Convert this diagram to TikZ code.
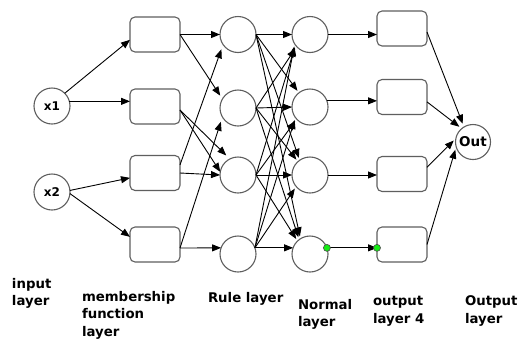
\documentclass[tikz,border=0pt]{standalone}
\usepackage{fontspec}
\setmainfont{DejaVu Sans}
\usetikzlibrary{arrows.meta,calc}

\definecolor{nodegray}{RGB}{95,95,95}
\definecolor{dotgreen}{RGB}{20,235,20}

\begin{document}
\begin{tikzpicture}[x=1pt,y=-1pt,
  every node/.style={inner sep=0pt,outer sep=0pt},
  neuron/.style={circle,draw=nodegray,line width=1.1pt,minimum size=36pt,
    font=\bfseries\fontsize{12}{14}\selectfont},
  mfbox/.style={rectangle,rounded corners=5pt,draw=nodegray,line width=1.1pt,
    minimum width=50pt,minimum height=35pt},
  link/.style={draw=black,line width=0.9pt,-{Triangle[length=9pt,width=7pt]}},
  caption/.style={font=\bfseries\fontsize{13.3}{17.3}\selectfont,align=left,anchor=base west},
  dot/.style={circle,fill=dotgreen,draw=black!70,line width=0.6pt,minimum size=7pt}
]
\useasboundingbox[fill=white] (0,0) rectangle (519,338);

% input layer
\node[neuron] (x1) at (52,106) {x1};
\node[neuron] (x2) at (52,192) {x2};

% membership function layer
\node[mfbox] (b1) at (155,34.5) {};
\node[mfbox] (b2) at (155,106.5) {};
\node[mfbox] (b3) at (155,173) {};
\node[mfbox] (b4) at (155,244.5) {};

% rule layer
\node[neuron] (r1) at (238,34.5) {};
\node[neuron] (r2) at (238,108) {};
\node[neuron] (r3) at (238,175) {};
\node[neuron] (r4) at (238,254) {};

% normalisation layer
\node[neuron] (n1) at (310,34.5) {};
\node[neuron] (n2) at (310,107) {};
\node[neuron] (n3) at (310,175) {};
\node[neuron] (n4) at (310,254) {};

% consequent (layer 4) boxes
\node[mfbox] (o1) at (402,28.5) {};
\node[mfbox] (o2) at (402,97) {};
\node[mfbox] (o3) at (402,174) {};
\node[mfbox] (o4) at (402,244.5) {};

% output node
\node[neuron,minimum size=35pt,font=\bfseries\fontsize{13.5}{15}\selectfont] (out) at (473,142) {Out};

% inputs to membership functions
\draw[link] (x1.45) -- (b1.192);
\draw[link] (x1.15) -- (x1.15 -| b2.west);
\draw[link] (x2.5) -- (b3.191);
\draw[link] (x2.-5) -- (b4.163);

% membership functions to rules
\draw[link] (b1.east) -- (r1.west);
\draw[link,shorten >=4pt] (b1.east) -- (r2.150);
\draw[link] (b2.-8) -- (r3.170);
\draw[link,shorten >=5pt] (b2.-8) -- (r3.117);
\draw[link] (b3.east) -- (r3.west);
\draw[link,shorten >=5pt] (b3.18) -- (r1.214);
\draw[link] (b4.-8) -- (r4.160);
\draw[link,shorten >=5pt] (b4.-8) -- (r2.210);

% rules to normalisation (fully connected)
\draw[link] (r1.east) -- (n1.west);
\draw[link] (r2.east) -- (n2.west);
\draw[link] (r3.east) -- (n3.west);
\draw[link] (r4.20) -- (n4.160);
\foreach \s/\t in {r1.east/n2.128, r1.east/n3.125, r1.east/n4.122,
                   r2.east/n3.132, r2.east/n4.127, r3.east/n4.134,
                   r2.east/n1.222, r3.east/n1.216, r4.20/n1.212,
                   r3.east/n2.222, r4.20/n2.216, r4.20/n3.220}
  \draw[link,shorten >=2.5pt] (\s) -- (\t);

% normalisation to layer 4
\draw[link] (n1.east) -- (n1.east -| o1.west);
\draw[link] (n2.20) -- (n2.20 -| o2.west);
\draw[link] (n3.east) -- (n3.east -| o3.west);
\draw[link] (n4.20) -- (n4.20 -| o4.west);
\node[dot] (g1) at (n4.20) {};
\node[dot] (g2) at (n4.20 -| o4.west) {};

% layer 4 to output
\draw[link,shorten >=3.5pt] (o1.-8) -- (out.121);
\draw[link,shorten >=3pt] (o2.-11) -- (out.130);
\draw[link,shorten >=3pt] (o3.15) -- (out.168);
\draw[link,shorten >=3pt] (o4.east) -- (out.196);

% layer captions (anchored at the baseline of the last line)
\node[caption] (l1) at (12,305.5) {input\\layer};
\node[caption] (l2) at (82,336) {membership\\function\\layer};
\node[caption] (l3) at (208,302) {Rule layer};
\node[caption] (l4) at (298,326.5) {Normal\\layer};
\node[caption] (l5) at (373,323) {output\\layer 4};
\node[caption] (l6) at (465,323) {Output\\layer};
\end{tikzpicture}
\end{document}
